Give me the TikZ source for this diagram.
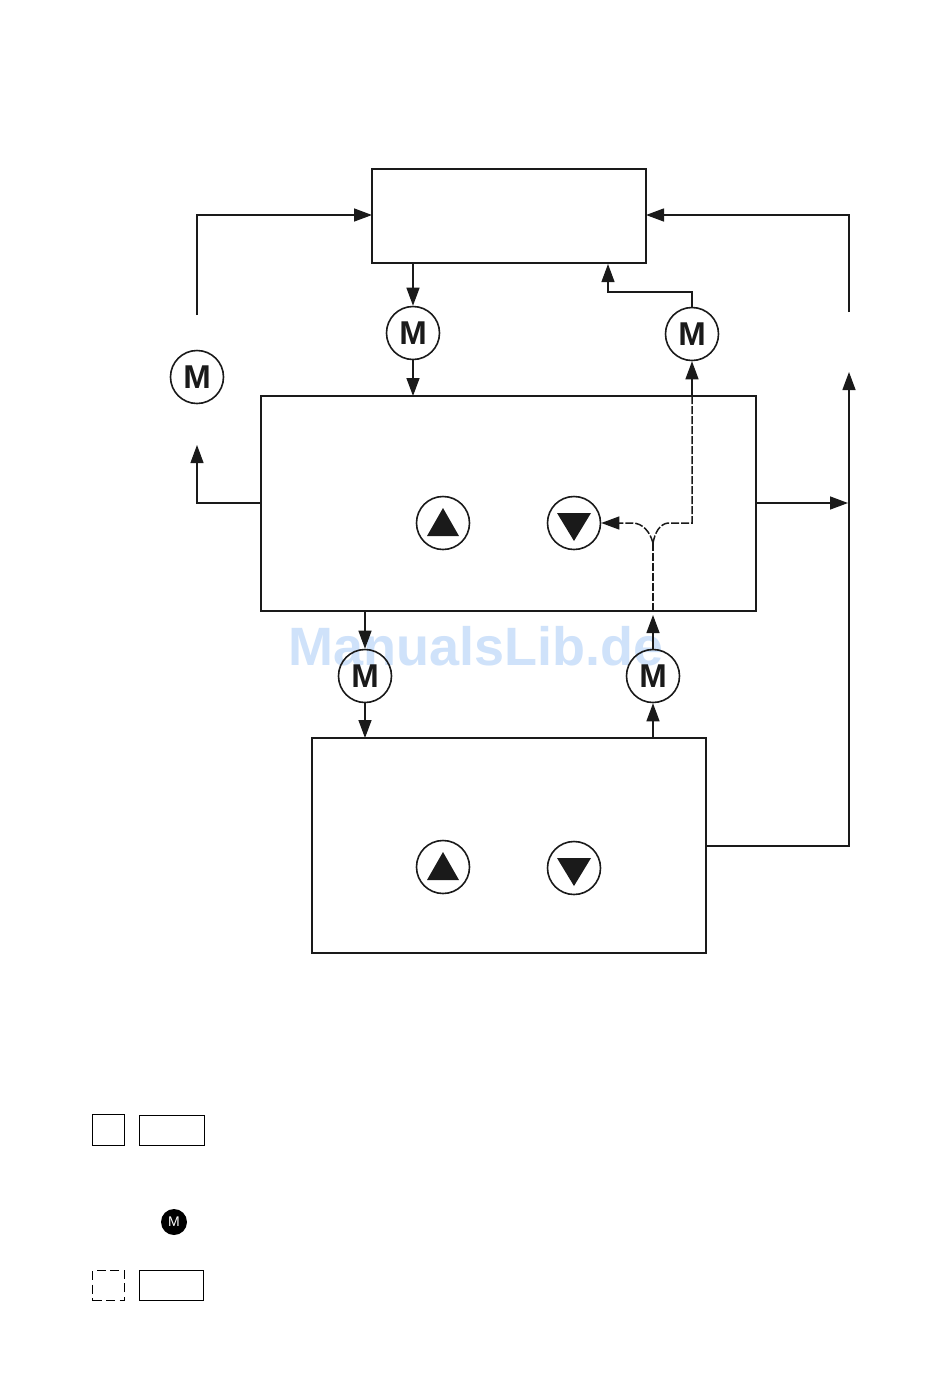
\documentclass[tikz,border=0pt]{standalone}
\usepackage{fontspec}
\setmainfont{Liberation Sans}
\usetikzlibrary{arrows.meta,calc}
\definecolor{wm}{HTML}{CFE2FA}
\definecolor{ink}{HTML}{1A1A1A}
\tikzset{
  boxn/.style={draw=ink,line width=2.2pt,minimum width=#1,inner sep=0pt,anchor=north west},
  mot/.style={circle,draw=ink,line width=1.6pt,minimum size=53pt,inner sep=0pt,font=\bfseries\fontsize{33}{33}\selectfont,text=ink},
  tri/.style={circle,draw=ink,line width=1.6pt,minimum size=53pt,inner sep=0pt},
  flow/.style={draw=ink,line width=1.4pt,-{Triangle[length=18pt,width=13pt,fill=ink]}},
  thinflow/.style={flow,line width=1.1pt},
  rough/.style={draw=ink,line width=1.5pt,dash pattern=on 8pt off 2pt},
  legbox/.style={draw=black,line width=1.1pt,inner sep=0pt,anchor=north west},
}
\begin{document}
\begin{tikzpicture}[x=1pt,y=-1pt]
\useasboundingbox (0,0) rectangle (950,1398);
\fill[white] (0,0) rectangle (950,1398);
\node[text=wm,font=\bfseries\fontsize{54}{54}\selectfont,inner sep=0pt] (wmark) at (476,646) {ManualsLib.de};

\node[boxn=274pt,minimum height=94pt] (A) at (371,168) {};
\node[boxn=495pt,minimum height=215pt] (B) at (260,395) {};
\node[boxn=394pt,minimum height=215pt] (C) at (311,737) {};

\node[mot] (m1) at (413,333) {M};
\node[mot] (m2) at (692,334) {M};
\node[mot] (m3) at (197,377) {M};
\node[mot] (m4) at (365,676) {M};
\node[mot] (m5) at (653,676) {M};

\node[tri] (u1) at (443,523) {};
\node[tri] (d1) at (574,523) {};
\node[tri] (u2) at (443,867) {};
\node[tri] (d2) at (574,868) {};
\foreach \n in {u1,u2}{\fill[ink] ($(\n)+(-16,13)$) -- ($(\n)+(16,13)$) -- ($(\n)+(0,-15)$) -- cycle;}
\foreach \n in {d1,d2}{\fill[ink] ($(\n)+(-17,-10)$) -- ($(\n)+(17,-10)$) -- ($(\n)+(0,18)$) -- cycle;}

\coordinate (m3top) at (197,315);
\coordinate (rtop) at (849,312);
\coordinate (Al) at (372,215);
\coordinate (Ar) at (646,215);
\coordinate (Bl) at (261,503);
\coordinate (Br) at (756,503);
\coordinate (Cr) at (706,846);
\coordinate (m3low) at (197,445);
\coordinate (rlow) at (849,372);
\coordinate (jn) at (653,543);

\draw[flow] (m3top) -- (197,215) -- (Al);
\draw[flow] (rtop) -- (849,215) -- (Ar);
\draw[flow] (413,263) -- (m1.north);
\draw[flow] (m1.south) -- (413,396);
\draw[thinflow] (m2.north) -- (692,292) -- (608,292) -- (608,264);
\draw[thinflow] (Bl) -- (197,503) -- (m3low);
\draw[flow] (Br) -- (848,503);
\draw[flow] (Cr) -- (849,846) -- (rlow);
\draw[flow] (365,611) -- (m4.north);
\draw[flow] (m4.south) -- (365,738);
\draw[flow] (653,738) -- (m5.south);
\draw[flow] (m5.north) -- (653,615);
\draw[flow] (692,396) -- (m2.south);
\draw[rough] (692,396) -- (692,523) -- (668,523) .. controls (660,524) and (655,532) .. (jn);
\draw[rough] (653,611) -- (jn);
\draw[rough] (jn) .. controls (650,532) and (643,523) .. (632,523) -- (612,523);
\draw[flow] (618,523) -- (d1.east);

\node[legbox,minimum width=32pt,minimum height=31pt] (l1) at (92,1114) {};
\node[legbox,minimum width=65pt,minimum height=30pt] (l2) at (139,1115) {};
\node[circle,fill=black,minimum size=26pt,inner sep=0pt,text=white,font=\fontsize{14}{14}\selectfont] (l3) at (174,1222) {M};
\node[legbox,dash pattern=on 9pt off 4.5pt,minimum width=32pt,minimum height=30pt] (l4) at (92,1270) {};
\node[legbox,minimum width=64pt,minimum height=30pt] (l5) at (139,1270) {};
\end{tikzpicture}
\end{document}
